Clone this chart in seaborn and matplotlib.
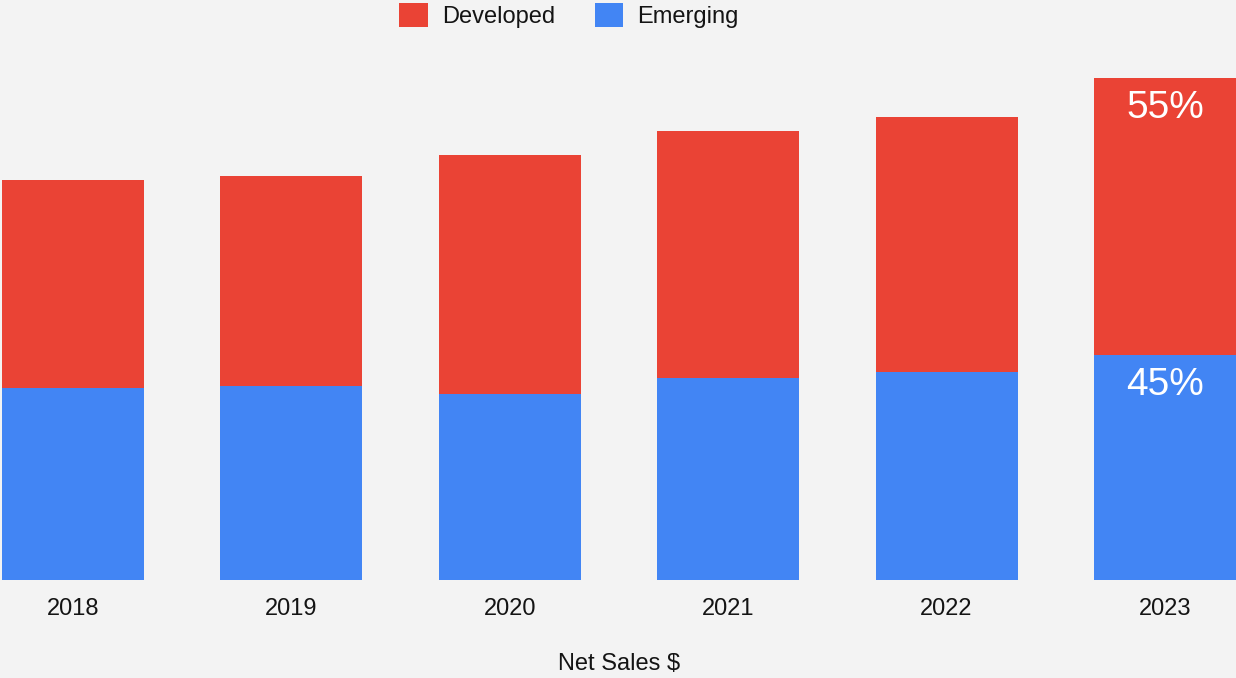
import matplotlib
matplotlib.use("Agg")
import matplotlib.pyplot as plt
from matplotlib.patches import Patch
import seaborn as sns
import pandas as pd

years = ["2018", "2019", "2020", "2021", "2022", "2023"]
emerging = [192, 194, 186, 202, 208, 225]
developed = [208, 210, 239, 247, 255, 277]

RED = "#ea4335"
BLUE = "#4285f4"
BG = "#f3f3f3"
INK = "#141414"

sns.set_theme(style="white")
plt.rcParams["font.family"] = ["Liberation Sans", "DejaVu Sans"]

df = pd.DataFrame({"year": years, "emerging": emerging, "developed": developed})
df["total"] = df["emerging"] + df["developed"]

fig = plt.figure(figsize=(12.36, 6.78), dpi=100, facecolor=BG)
ax = fig.add_axes([2 / 1236, 98 / 678, 1234 / 1236, 540 / 678])
ax.set_facecolor(BG)

# Stacked bars: full total in red, emerging share drawn over it from the base
sns.barplot(data=df, x="year", y="total", color=RED, saturation=1, width=0.65, ax=ax)
sns.barplot(data=df, x="year", y="emerging", color=BLUE, saturation=1, width=0.65, ax=ax)
for p in ax.patches:
    p.set_linewidth(0)

ax.set_xlim(-0.325, 5.325)
ax.set_ylim(0, 540)
ax.set_yticks([])
ax.set_ylabel("")
ax.set_xlabel("Net Sales $", fontsize=17, color=INK, labelpad=24)
ax.tick_params(axis="x", length=0, labelsize=17, labelcolor=INK, pad=13)
for s in ax.spines.values():
    s.set_visible(False)

# Share labels on the latest year
i = len(years) - 1
tot = df["total"].iloc[i]
share_dev = round(100 * developed[i] / tot)
share_em = round(100 * emerging[i] / tot)
ax.text(i, tot - 12, f"{share_dev}%", ha="center", va="top", color="white", fontsize=28)
ax.text(i, emerging[i] - 12, f"{share_em}%", ha="center", va="top", color="white", fontsize=28)

handles = [Patch(facecolor=RED, edgecolor="none", label="Developed"),
           Patch(facecolor=BLUE, edgecolor="none", label="Emerging")]
fig.legend(handles=handles, loc="upper center", bbox_to_anchor=(569 / 1236, 1.027), ncol=2,
           frameon=False, fontsize=17, handlelength=1.2, handleheight=1.2,
           handletextpad=0.6, columnspacing=1.7, labelcolor=INK)

fig.savefig("out.png", dpi=100, facecolor=BG)
